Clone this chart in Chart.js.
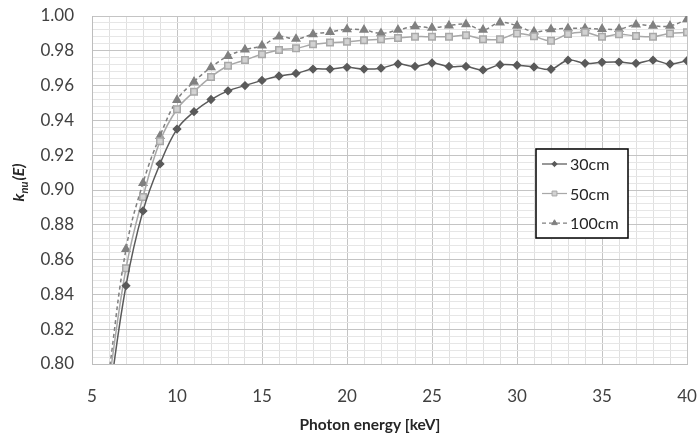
<!DOCTYPE html>
<html>
<head>
<meta charset="utf-8">
<script src="https://cdn.jsdelivr.net/npm/chart.js@4.4.0/dist/chart.umd.min.js"></script>
<style>
  body { margin: 0; background: #fff; }
</style>
</head>
<body>
<canvas id="chart" width="700" height="436"></canvas>
<script>
// photon energy [keV]
const energies = [6, 7, 8, 9, 10, 11, 12, 13, 14, 15, 16, 17, 18, 19, 20, 21, 22, 23,
  24, 25, 26, 27, 28, 29, 30, 31, 32, 33, 34, 35, 36, 37, 38, 39, 40];

const k30 = [0.780, 0.845, 0.888, 0.915, 0.935, 0.945, 0.952, 0.957, 0.960, 0.963,
  0.9655, 0.967, 0.9695, 0.9695, 0.9705, 0.9695, 0.970, 0.9724, 0.971, 0.973,
  0.971, 0.971, 0.969, 0.972, 0.9717, 0.9707, 0.9694, 0.9746, 0.9728, 0.9734,
  0.9735, 0.9728, 0.9746, 0.9724, 0.9743];

const k50 = [0.790, 0.855, 0.896, 0.928, 0.9464, 0.9565, 0.965, 0.9714, 0.9747, 0.978,
  0.9805, 0.9814, 0.9837, 0.9847, 0.9852, 0.986, 0.9866, 0.9874, 0.9881, 0.9881,
  0.9881, 0.9889, 0.9866, 0.9867, 0.9899, 0.9883, 0.9858, 0.9897, 0.9906, 0.9881,
  0.9895, 0.9885, 0.9881, 0.990, 0.9906];

const k100 = [0.795, 0.866, 0.904, 0.931, 0.9517, 0.9622, 0.9705, 0.977, 0.9807, 0.983,
  0.9881, 0.9868, 0.9895, 0.9908, 0.9923, 0.992, 0.990, 0.992, 0.994, 0.9932,
  0.9945, 0.9952, 0.9921, 0.9962, 0.9944, 0.991, 0.9923, 0.9929, 0.9929, 0.9925,
  0.9925, 0.995, 0.9943, 0.9943, 0.9981];

const xTickLabels = [5, 10, 15, 20, 25, 30, 35, 40];
const yTickLabels = ['0.80', '0.82', '0.84', '0.86', '0.88', '0.90', '0.92', '0.94', '0.96', '0.98', '1.00'];

const textColor = '#404040';
const tickFont = { family: 'Lato', size: 17 };

const pts = arr => arr.map((v, i) => ({ x: energies[i], y: v }));

// axis titles (y title has a subscript)
const axisTitles = {
  id: 'axisTitles',
  afterDraw(chart) {
    const ctx = chart.ctx;
    ctx.save();
    ctx.fillStyle = '#262626';
    ctx.textBaseline = 'middle';
    ctx.textAlign = 'center';
    ctx.font = 'bold 15.5px Lato';
    ctx.fillText('Photon energy [keV]', 370, 425);

    ctx.textAlign = 'left';
    ctx.translate(19, 183);
    ctx.rotate(-Math.PI / 2);
    const big = 'italic bold 16px Lato';
    const small = 'italic bold 11px Lato';
    ctx.font = big;
    const wk = ctx.measureText('k').width;
    const wE = ctx.measureText('(E)').width;
    ctx.font = small;
    const wn = ctx.measureText('nu').width;
    let x = -(wk + wn + wE) / 2;
    ctx.font = big; ctx.fillText('k', x, 0); x += wk;
    ctx.font = small; ctx.fillText('nu', x, 5); x += wn + 1;
    ctx.font = big; ctx.fillText('(E)', x, 0);
    ctx.restore();
  }
};

// boxed legend inside the plot
const boxLegend = {
  id: 'boxLegend',
  afterDraw(chart) {
    const ctx = chart.ctx;
    ctx.save();
    ctx.fillStyle = '#fff';
    ctx.fillRect(536, 149, 92, 89);
    ctx.strokeStyle = '#000';
    ctx.lineWidth = 1.5;
    ctx.strokeRect(536, 149, 92, 89);
    chart.data.datasets.forEach((ds, i) => {
      const y = 164 + i * 29.5;
      ctx.strokeStyle = ds.borderColor;
      ctx.lineWidth = 1.25;
      ctx.setLineDash(ds.borderDash || []);
      ctx.beginPath();
      ctx.moveTo(542, y);
      ctx.lineTo(567, y);
      ctx.stroke();
      ctx.setLineDash([]);
      ctx.fillStyle = ds.pointBackgroundColor;
      ctx.strokeStyle = ds.pointBorderColor;
      ctx.lineWidth = 1;
      Chart.helpers.drawPoint(ctx, { pointStyle: ds.pointStyle, radius: ds.pointRadius * 0.75, borderWidth: 1 }, 554.5, y);
      ctx.fillStyle = '#262626';
      ctx.font = '16px Lato';
      ctx.textBaseline = 'middle';
      ctx.fillText(ds.label, 570, y + 1);
    });
    ctx.restore();
  }
};

new Chart(document.getElementById('chart'), {
  type: 'line',
  data: {
    datasets: [
      {
        label: '30cm',
        data: pts(k30),
        borderColor: '#5a5a5a',
        borderWidth: 1.5,
        pointStyle: 'rectRot',
        pointRadius: 3.6,
        pointBackgroundColor: '#5a5a5a',
        pointBorderColor: '#5a5a5a',
        tension: 0.4
      },
      {
        label: '50cm',
        data: pts(k50),
        borderColor: '#a8a8a8',
        borderWidth: 1.5,
        pointStyle: 'rect',
        pointRadius: 4.6,
        pointBorderWidth: 1.5,
        pointBackgroundColor: '#d2d2d2',
        pointBorderColor: '#a8a8a8',
        tension: 0.4
      },
      {
        label: '100cm',
        data: pts(k100),
        borderColor: '#808080',
        borderWidth: 1.5,
        borderDash: [4, 3],
        pointStyle: 'triangle',
        pointRadius: 4.3,
        pointBackgroundColor: '#808080',
        pointBorderColor: '#808080',
        tension: 0.4
      }
    ]
  },
  options: {
    responsive: false,
    animation: false,
    layout: { padding: { top: 16, right: 13, left: 0, bottom: 0 } },
    plugins: { legend: { display: false }, tooltip: { enabled: false } },
    scales: {
      x: {
        type: 'linear',
        min: 5,
        max: 40,
        afterFit(s) { s.height = 72; s.paddingLeft = 0; s.paddingRight = 0; },
        ticks: {
          stepSize: 1,
          autoSkip: false,
          maxRotation: 0,
          maxTicksLimit: 1000,
          padding: 22,
          color: textColor,
          font: tickFont,
          callback: v => xTickLabels.includes(v) ? String(v) : ''
        },
        grid: {
          drawTicks: false,
          color: c => (c.tick && c.tick.value % 5 === 0) ? '#c4c4c4' : '#e0e0e0'
        },
        border: { color: '#bdbdbd' }
      },
      y: {
        min: 0.8,
        max: 1.0,
        afterFit(s) { s.width = 92; s.paddingTop = 0; s.paddingBottom = 0; },
        ticks: {
          stepSize: 0.004,
          autoSkip: false,
          maxTicksLimit: 1000,
          padding: 18,
          color: textColor,
          font: tickFont,
          callback: v => {
            const s = v.toFixed(2);
            return (yTickLabels.includes(s) && Math.abs(v - Number(s)) < 1e-6) ? s : '';
          }
        },
        grid: {
          drawTicks: false,
          color: c => {
            const v = c.tick ? c.tick.value : 0;
            return Math.abs(v * 50 - Math.round(v * 50)) < 1e-6 ? '#c4c4c4' : '#e6e6e6';
          }
        },
        border: { color: '#bdbdbd' }
      }
    }
  },
  plugins: [axisTitles, boxLegend]
});
</script>
</body>
</html>
